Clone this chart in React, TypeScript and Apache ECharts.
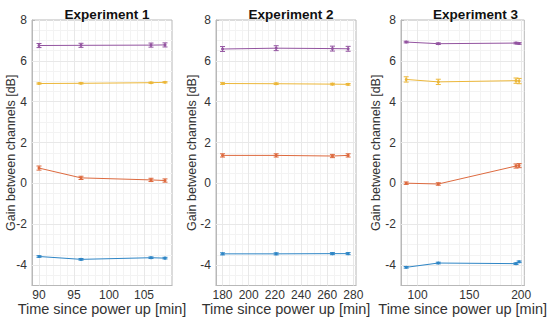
import React, { useEffect, useRef } from "react";
import * as echarts from "echarts";

// ---------- data ----------
const TITLES = ["Experiment 1", "Experiment 2", "Experiment 3"];
const X_LABEL = "Time since power up [min]";
const Y_LABEL = "Gain between channels [dB]";

const TIMES_1 = [90, 96, 106, 108];
const TIMES_2 = [180, 221, 264, 276];
const TIMES_3 = [89, 120, 195, 198];

const X_TICKS_1 = [90, 95, 100, 105];
const X_TICKS_2 = [180, 200, 220, 240, 260, 280];
const X_TICKS_3 = [100, 150, 200];
const Y_TICKS = [-4, -2, 0, 2, 4, 6, 8];

// Experiment 1
const E1_BLUE = [-3.58, -3.72, -3.64, -3.66];
const E1_ORANGE = [0.75, 0.27, 0.17, 0.14];
const E1_YELLOW = [4.89, 4.9, 4.93, 4.95];
const E1_PURPLE = [6.75, 6.76, 6.77, 6.78];
const E1_BLUE_ERR = [0.04, 0.04, 0.04, 0.04];
const E1_ORANGE_ERR = [0.1, 0.08, 0.08, 0.08];
const E1_YELLOW_ERR = [0.03, 0.03, 0.03, 0.03];
const E1_PURPLE_ERR = [0.1, 0.1, 0.1, 0.1];

// Experiment 2
const E2_BLUE = [-3.45, -3.45, -3.44, -3.44];
const E2_ORANGE = [1.37, 1.37, 1.34, 1.37];
const E2_YELLOW = [4.89, 4.88, 4.86, 4.85];
const E2_PURPLE = [6.58, 6.62, 6.6, 6.59];
const E2_BLUE_ERR = [0.05, 0.05, 0.05, 0.05];
const E2_ORANGE_ERR = [0.08, 0.08, 0.08, 0.08];
const E2_YELLOW_ERR = [0.04, 0.04, 0.04, 0.04];
const E2_PURPLE_ERR = [0.12, 0.12, 0.12, 0.12];

// Experiment 3
const E3_BLUE = [-4.11, -3.9, -3.93, -3.84];
const E3_ORANGE = [0.01, -0.03, 0.85, 0.87];
const E3_YELLOW = [5.09, 4.97, 5.03, 5.01];
const E3_PURPLE = [6.92, 6.84, 6.87, 6.85];
const E3_BLUE_ERR = [0.04, 0.04, 0.04, 0.04];
const E3_ORANGE_ERR = [0.06, 0.06, 0.1, 0.1];
const E3_YELLOW_ERR = [0.13, 0.13, 0.13, 0.13];
const E3_PURPLE_ERR = [0.04, 0.04, 0.04, 0.04];

// ---------- styles ----------
const COLORS = ["#2f86c6", "#dd6a3f", "#ecb739", "#9354a0"];
const FONT = "Liberation Sans";
const BOX = "#b8b8b8";
const GRID_MAJOR = "#e8e8e8";
const GRID_MINOR = "#f3f3f3";
const TEXT = "#333333";

const PANELS = [
  {
    times: TIMES_1, xMin: 89, xMax: 109, xTicks: X_TICKS_1, minorStep: 1,
    values: [E1_BLUE, E1_ORANGE, E1_YELLOW, E1_PURPLE],
    errs: [E1_BLUE_ERR, E1_ORANGE_ERR, E1_YELLOW_ERR, E1_PURPLE_ERR],
    left: 32, width: 140, yNameGap: 15,
  },
  {
    times: TIMES_2, xMin: 175, xMax: 282, xTicks: X_TICKS_2, minorStep: 5,
    values: [E2_BLUE, E2_ORANGE, E2_YELLOW, E2_PURPLE],
    errs: [E2_BLUE_ERR, E2_ORANGE_ERR, E2_YELLOW_ERR, E2_PURPLE_ERR],
    left: 216, width: 140, yNameGap: 18,
  },
  {
    times: TIMES_3, xMin: 84, xMax: 203, xTicks: X_TICKS_3, minorStep: 10,
    values: [E3_BLUE, E3_ORANGE, E3_YELLOW, E3_PURPLE],
    errs: [E3_BLUE_ERR, E3_ORANGE_ERR, E3_YELLOW_ERR, E3_PURPLE_ERR],
    left: 401, width: 139, yNameGap: 19,
  },
];

const Y_MIN = -5;
const Y_MAX = 8;
const GRID_TOP = 20;
const GRID_HEIGHT = 269;

function range(a: number, b: number, step: number) {
  const out: number[] = [];
  for (let v = Math.ceil(a / step) * step; v <= b + 1e-9; v += step) out.push(+v.toFixed(6));
  return out;
}

export default function App() {
  const ref = useRef<HTMLDivElement>(null);
  useEffect(() => {
    if (!ref.current) return;
    const chart = echarts.init(ref.current, null, { renderer: "svg" });

    const grids: any[] = [];
    const xAxes: any[] = [];
    const yAxes: any[] = [];
    const titles: any[] = [];
    const series: any[] = [];

    PANELS.forEach((p, i) => {
      grids.push({
        left: p.left, width: p.width, top: GRID_TOP, height: GRID_HEIGHT,
        show: true, borderColor: BOX, borderWidth: 1, backgroundColor: "#fff",
      });
      titles.push({
        text: TITLES[i],
        left: p.left + p.width / 2,
        top: 2,
        textAlign: "center",
        textStyle: { fontFamily: FONT, fontSize: 13.5, fontWeight: "bold", color: "#111" },
      });
      xAxes.push({
        type: "value", gridIndex: i, min: p.xMin, max: p.xMax,
        axisLine: { show: true, onZero: false, lineStyle: { color: BOX } },
        axisTick: { show: true, inside: true, length: 3, customValues: p.xTicks, lineStyle: { color: BOX } },
        axisLabel: { customValues: p.xTicks, color: TEXT, fontSize: 12, lineHeight: 12, fontFamily: FONT, margin: 3, showMinLabel: true, showMaxLabel: true },
        splitLine: { show: false },
        name: X_LABEL, nameLocation: "middle", nameGap: 23, nameMoveOverlap: false,
        nameTextStyle: { fontFamily: FONT, fontSize: 14.5, lineHeight: 14, color: TEXT, verticalAlign: "middle" },
      });
      yAxes.push({
        type: "value", gridIndex: i, min: Y_MIN, max: Y_MAX,
        axisLine: { show: true, lineStyle: { color: BOX } },
        axisTick: { show: true, inside: true, length: 3, customValues: Y_TICKS, lineStyle: { color: BOX } },
        axisLabel: { customValues: Y_TICKS, color: TEXT, fontSize: 12, fontFamily: FONT, margin: 5 },
        splitLine: { show: false },
        name: Y_LABEL, nameLocation: "middle", nameGap: p.yNameGap, nameMoveOverlap: false,
        nameTextStyle: { fontFamily: FONT, fontSize: 12.5, color: TEXT },
      });

      // grid lines (minor then major) via markLine on dummy series
      const minorX = range(p.xMin, p.xMax, p.minorStep).filter((v) => !p.xTicks.includes(v) && v > p.xMin && v < p.xMax);
      const minorY = range(Y_MIN, Y_MAX, 0.5).filter((v) => !Y_TICKS.includes(v) && v > Y_MIN && v < Y_MAX);
      series.push({
        type: "line", xAxisIndex: i, yAxisIndex: i, data: [], silent: true, z: 0,
        markLine: {
          silent: true, z: 0, symbol: ["none", "none"], label: { show: false },
          lineStyle: { color: GRID_MINOR, width: 1, type: "solid" },
          data: [...minorX.map((v) => ({ xAxis: v })), ...minorY.map((v) => ({ yAxis: v }))],
        },
      });
      series.push({
        type: "line", xAxisIndex: i, yAxisIndex: i, data: [], silent: true, z: 1,
        markLine: {
          silent: true, z: 1, symbol: ["none", "none"], label: { show: false },
          lineStyle: { color: GRID_MAJOR, width: 1, type: "solid" },
          data: [
            ...p.xTicks.filter((v) => v > p.xMin && v < p.xMax).map((v) => ({ xAxis: v })),
            ...Y_TICKS.filter((v) => v > Y_MIN && v < Y_MAX).map((v) => ({ yAxis: v })),
          ],
        },
      });

      p.values.forEach((vals, k) => {
        const color = COLORS[k];
        series.push({
          type: "line", xAxisIndex: i, yAxisIndex: i, z: 3,
          data: p.times.map((t, j) => [t, vals[j]]),
          symbol: "circle", symbolSize: 3,
          lineStyle: { color, width: 1 },
          itemStyle: { color },
        });
        series.push({
          type: "custom", xAxisIndex: i, yAxisIndex: i, z: 4,
          data: p.times.map((t, j) => [t, vals[j], p.errs[k][j]]),
          encode: { x: 0, y: 1 },
          renderItem: (_params: any, api: any) => {
            const x = api.value(0);
            const y = api.value(1);
            const e = api.value(2);
            const top = api.coord([x, y + e]);
            const bot = api.coord([x, y - e]);
            const w = 2.5;
            const style = { stroke: color, lineWidth: 1 };
            return {
              type: "group",
              children: [
                { type: "line", shape: { x1: top[0], y1: top[1], x2: bot[0], y2: bot[1] }, style },
                { type: "line", shape: { x1: top[0] - w, y1: top[1], x2: top[0] + w, y2: top[1] }, style },
                { type: "line", shape: { x1: bot[0] - w, y1: bot[1], x2: bot[0] + w, y2: bot[1] }, style },
              ],
            };
          },
        });
      });
    });

    chart.setOption({
      animation: false,
      backgroundColor: "#fff",
      title: titles,
      grid: grids,
      xAxis: xAxes,
      yAxis: yAxes,
      series,
    });
    return () => chart.dispose();
  }, []);

  return (
    <div
      ref={ref}
      style={{ position: "fixed", left: 0, top: 0, width: 550, height: 321 }}
    />
  );
}
